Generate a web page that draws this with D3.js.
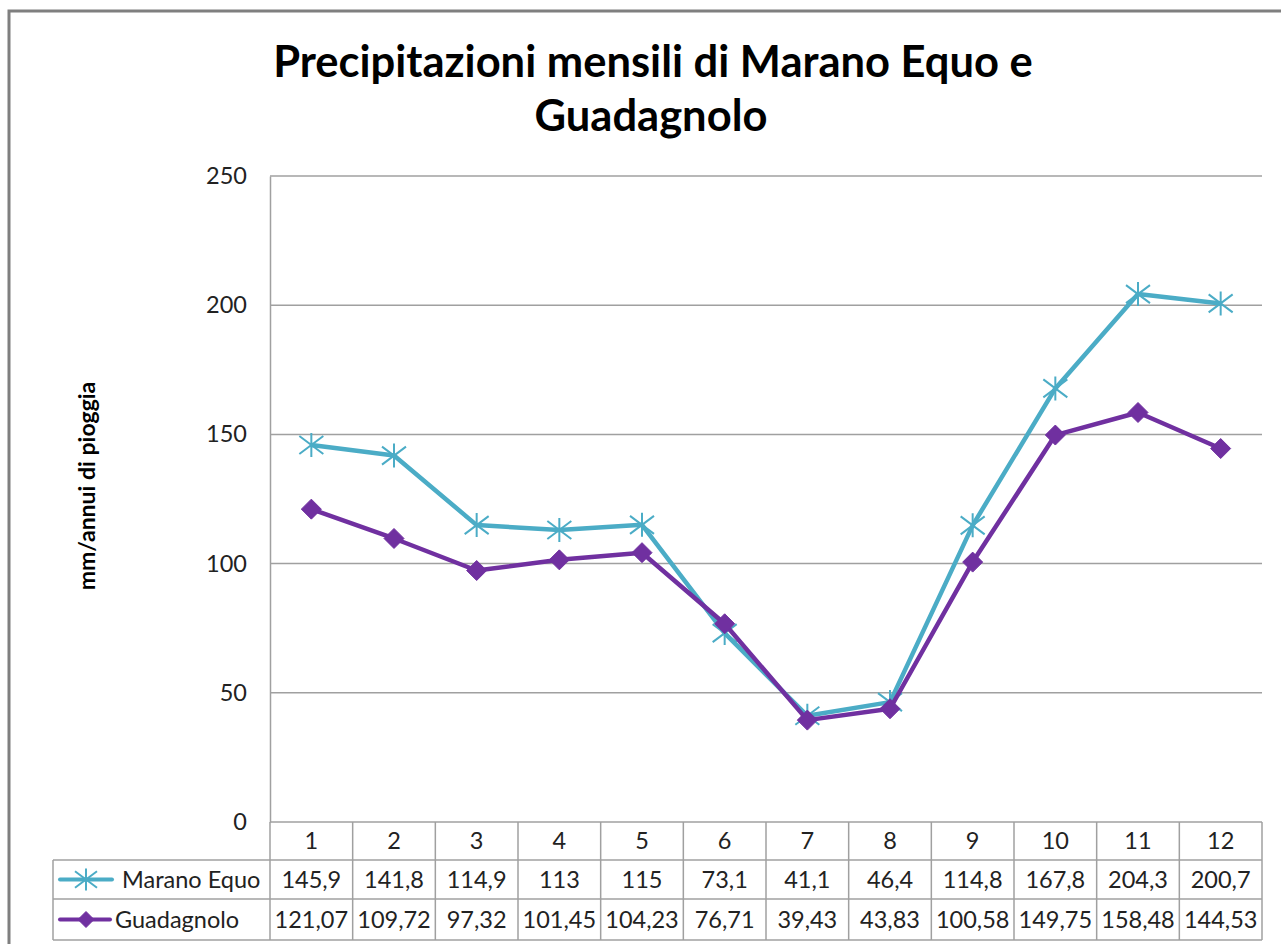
<!DOCTYPE html>
<html>
<head>
<meta charset="utf-8">
<script src="https://cdn.jsdelivr.net/npm/d3@7"></script>
<style>
  body { margin: 0; background: #fff; }
  svg { display: block; font-family: Lato, "Open Sans", sans-serif; }
</style>
</head>
<body>
<svg id="chart" width="1281" height="944"></svg>
<script>
const months = ['1', '2', '3', '4', '5', '6', '7', '8', '9', '10', '11', '12'];
const maranoEquo = [145.9, 141.8, 114.9, 113, 115, 73.1, 41.1, 46.4, 114.8, 167.8, 204.3, 200.7];
const guadagnolo = [121.07, 109.72, 97.32, 101.45, 104.23, 76.71, 39.43, 43.83, 100.58, 149.75, 158.48, 144.53];
const yTicks = [0, 50, 100, 150, 200, 250];
const seriesNames = ['Marano Equo', 'Guadagnolo'];

const series = [
  { name: seriesNames[0], values: maranoEquo, color: '#4bacc6', marker: 'star' },
  { name: seriesNames[1], values: guadagnolo, color: '#7030a0', marker: 'diamond' }
];

const svg = d3.select('#chart');
const margin = { top: 176, right: 19, bottom: 122, left: 270 };
const width = +svg.attr('width');
const height = +svg.attr('height');
const fmt = v => String(v).replace('.', ',');
const textSize = 23.5;

// chart frame
svg.append('rect')
  .attr('x', 9).attr('y', 11)
  .attr('width', width + 20).attr('height', height + 20)
  .attr('fill', '#fff')
  .attr('stroke', '#7f7f7f')
  .attr('stroke-width', 3);

svg.append('text')
  .attr('x', 653).attr('y', 77)
  .attr('text-anchor', 'middle')
  .attr('font-size', 43.5).attr('font-weight', 'bold')
  .text('Precipitazioni mensili di Marano Equo e');
svg.append('text')
  .attr('x', 651).attr('y', 131)
  .attr('text-anchor', 'middle')
  .attr('font-size', 43.5).attr('font-weight', 'bold')
  .text('Guadagnolo');

const x = d3.scaleBand()
  .domain(months)
  .range([margin.left, width - margin.right]);

const y = d3.scaleLinear()
  .domain([0, 250])
  .range([height - margin.bottom, margin.top]);

// gridlines
svg.append('g')
  .selectAll('line')
  .data(yTicks.filter(d => d > 0))
  .enter()
  .append('line')
  .attr('x1', margin.left).attr('x2', width - margin.right)
  .attr('y1', d => y(d)).attr('y2', d => y(d))
  .attr('stroke', '#a0a0a0').attr('stroke-width', 1.5);

// y axis
const yAxis = svg.append('g')
  .attr('transform', `translate(${margin.left},0)`)
  .call(d3.axisLeft(y).tickValues(yTicks).tickSize(0).tickPadding(23));
yAxis.select('.domain').attr('stroke', '#a0a0a0').attr('stroke-width', 1.5);
yAxis.selectAll('text')
  .attr('font-family', 'Lato, sans-serif')
  .attr('font-size', textSize).attr('fill', '#222');

svg.append('text')
  .attr('transform', `translate(95,${(y(0) + y(250)) / 2 - 13}) rotate(-90)`)
  .attr('text-anchor', 'middle')
  .attr('font-size', 23).attr('font-weight', 'bold')
  .text('mm/annui di pioggia');

// data table
const rowH = [38, 39, 41];
const tableTop = y(0);
const rowY = [tableTop, tableTop + rowH[0], tableTop + rowH[0] + rowH[1], tableTop + rowH[0] + rowH[1] + rowH[2]];
const legendLeft = 53;
const right = width - margin.right;
const gridColor = '#a0a0a0';

const table = svg.append('g');
// horizontal lines
table.append('line')
  .attr('x1', margin.left).attr('x2', right)
  .attr('y1', rowY[0]).attr('y2', rowY[0])
  .attr('stroke', gridColor).attr('stroke-width', 1.5);
[1, 2, 3].forEach(i => {
  table.append('line')
    .attr('x1', legendLeft).attr('x2', right)
    .attr('y1', rowY[i]).attr('y2', rowY[i])
    .attr('stroke', gridColor).attr('stroke-width', 1.5);
});
// vertical lines
table.selectAll('.vcol')
  .data(months.concat(['end']))
  .enter()
  .append('line')
  .attr('x1', d => d === 'end' ? right : x(d))
  .attr('x2', d => d === 'end' ? right : x(d))
  .attr('y1', rowY[0]).attr('y2', rowY[3])
  .attr('stroke', gridColor).attr('stroke-width', 1.5);
table.append('line')
  .attr('x1', legendLeft).attr('x2', legendLeft)
  .attr('y1', rowY[1]).attr('y2', rowY[3])
  .attr('stroke', gridColor).attr('stroke-width', 1.5);

// category labels
table.selectAll('.cat')
  .data(months)
  .enter()
  .append('text')
  .attr('x', d => x(d) + x.bandwidth() / 2)
  .attr('y', (rowY[0] + rowY[1]) / 2 + 8)
  .attr('text-anchor', 'middle')
  .attr('font-size', textSize).attr('fill', '#222')
  .text(d => d);

function drawMarker(g, type, color, cx, cy, s) {
  const r = s / 2;
  if (type === 'star') {
    g.append('path')
      .attr('d', `M${cx - r},${cy - r * 0.75}L${cx + r},${cy + r * 0.75}M${cx - r},${cy + r * 0.75}L${cx + r},${cy - r * 0.75}M${cx},${cy - r}L${cx},${cy + r}`)
      .attr('stroke', color).attr('stroke-width', 2).attr('fill', 'none');
  } else {
    g.append('path')
      .attr('d', `M${cx},${cy - r}L${cx + r},${cy}L${cx},${cy + r}L${cx - r},${cy}Z`)
      .attr('fill', color).attr('stroke', color).attr('stroke-width', 1);
  }
}

series.forEach((s, i) => {
  const cy = (rowY[i + 1] + rowY[i + 2]) / 2;
  table.selectAll('.val' + i)
    .data(s.values)
    .enter()
    .append('text')
    .attr('x', (d, j) => x(months[j]) + x.bandwidth() / 2)
    .attr('y', cy + 8)
    .attr('text-anchor', 'middle')
    .attr('font-size', textSize).attr('fill', '#222')
    .text(d => fmt(d));
  // legend key
  table.append('line')
    .attr('x1', 60).attr('x2', i === 0 ? 112 : 110)
    .attr('y1', cy).attr('y2', cy)
    .attr('stroke', s.color).attr('stroke-width', 4).attr('stroke-linecap', 'round');
  drawMarker(table, s.marker, s.color, 86, cy, i === 0 ? 22 : 16);
  table.append('text')
    .attr('x', i === 0 ? 122 : 115)
    .attr('y', cy + 8)
    .attr('font-size', textSize).attr('fill', '#222')
    .text(s.name);
});

// series lines
const line = d3.line()
  .x((d, j) => x(months[j]) + x.bandwidth() / 2)
  .y(d => y(d));

series.forEach(s => {
  const g = svg.append('g');
  g.append('path')
    .datum(s.values)
    .attr('fill', 'none')
    .attr('stroke', s.color)
    .attr('stroke-width', 4.5)
    .attr('stroke-linejoin', 'round')
    .attr('d', line);
  s.values.forEach((v, j) => {
    drawMarker(g, s.marker, s.color, x(months[j]) + x.bandwidth() / 2, y(v), s.marker === 'star' ? 24 : 20);
  });
});
</script>
</body>
</html>
